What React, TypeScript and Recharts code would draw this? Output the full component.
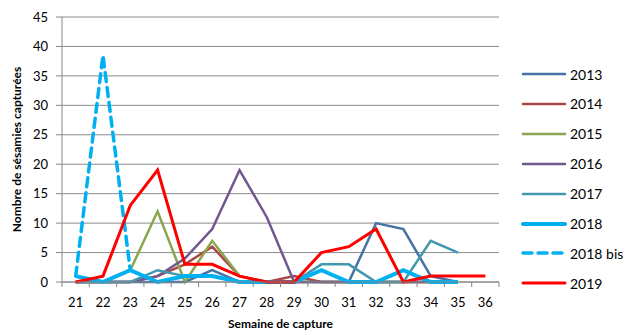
import { LineChart, Line, XAxis, YAxis, CartesianGrid } from "recharts";

// semaines de capture
const weeks = [21, 22, 23, 24, 25, 26, 27, 28, 29, 30, 31, 32, 33, 34, 35, 36];

// captures hebdomadaires par année
const s2013 = [0, 0, 0, 0, 0, 2, 0, 0, 0, 0, 0, 10, 9, 1, 0, null];
const s2014 = [0, 0, 0, 1, 3, 6, 1, 0, 1, 0, 0, 0, 0, 0, 0, null];
const s2015 = [0, 0, 2, 12, 0, 7, 1, 0, 0, 0, 0, 0, 0, 0, 0, null];
const s2016 = [0, 0, 0, 1, 4, 9, 19, 11, 0, 0, 0, 0, 0, 0, 0, null];
const s2017 = [0, 0, 0, 2, 1, 1, 0, 0, 0, 3, 3, 0, 0, 7, 5, null];
const s2018 = [1, 0, 2, 0, 1, 1, 0, 0, 0, 2, 0, 0, 2, 0, 0, null];
const s2018bis = [1, 38.5, 2, null, null, null, null, null, null, null, null, null, null, null, null, null];
const s2019 = [0, 1, 13, 19, 3, 3, 1, 0, 0, 5, 6, 9, 0, 1, 1, 1];

const yTicks = [0, 5, 10, 15, 20, 25, 30, 35, 40, 45];

const series = [
  { key: "y2013", name: "2013", values: s2013, color: "#4572A7", width: 2.5, dash: undefined },
  { key: "y2014", name: "2014", values: s2014, color: "#AA4643", width: 2.5, dash: undefined },
  { key: "y2015", name: "2015", values: s2015, color: "#89A54E", width: 2.5, dash: undefined },
  { key: "y2016", name: "2016", values: s2016, color: "#71588F", width: 2.5, dash: undefined },
  { key: "y2017", name: "2017", values: s2017, color: "#4198AF", width: 2.5, dash: undefined },
  { key: "y2018", name: "2018", values: s2018, color: "#00B0F0", width: 4, dash: undefined },
  { key: "y2018bis", name: "2018 bis", values: s2018bis, color: "#00B0F0", width: 3.5, dash: "9 6" },
  { key: "y2019", name: "2019", values: s2019, color: "#FF0000", width: 3, dash: undefined },
];

const rows = weeks.map((week, i) => {
  const row: Record<string, number | null> = { week };
  series.forEach((s) => {
    row[s.key] = s.values[i];
  });
  return row;
});

// ticks at each week for labels, and at half weeks for the tick marks between them
const xTicks = [weeks[0] - 0.5, ...weeks.flatMap((w) => [w, w + 0.5])];

const W = 625;
const H = 335;
const FONT = "Lato, 'Open Sans', sans-serif";
const AXIS = "#868686";
const TICK_SIZE = 5;
const TICK_MARGIN = 11;

function WeekTick(props: any) {
  const { x, y, payload } = props;
  const v = payload.value;
  if (Number.isInteger(v)) {
    return (
      <text x={x} y={y} dy="0.71em" textAnchor="middle" fontSize={13} fill="#000" fontFamily={FONT}>
        {v}
      </text>
    );
  }
  const top = y - TICK_SIZE - TICK_MARGIN;
  return <line x1={x} x2={x} y1={top} y2={top + TICK_SIZE} stroke={AXIS} strokeWidth={1} />;
}

function LegendBox() {
  return (
    <div style={{ position: "absolute", left: 521, top: 74, fontFamily: FONT, fontSize: 14 }}>
      {series.map((s, i) => (
        <div
          key={s.key}
          style={{
            position: "absolute",
            top: i * 29.9 - 9,
            left: 0,
            height: 18,
            display: "flex",
            alignItems: "center",
            whiteSpace: "nowrap",
          }}
        >
          <svg width={46} height={10} style={{ marginRight: 3 }}>
            <line
              x1={2}
              x2={44}
              y1={5}
              y2={5}
              stroke={s.color}
              strokeWidth={s.width}
              strokeDasharray={s.dash}
              strokeLinecap="round"
            />
          </svg>
          <span>{s.name}</span>
        </div>
      ))}
    </div>
  );
}

export default function App() {
  return (
    <div style={{ position: "absolute", left: 0, top: 0, width: W, height: H, background: "#fff" }}>
      <LineChart width={W} height={H} data={rows} margin={{ top: 17, right: 126, bottom: 3, left: 0 }}>
        <CartesianGrid horizontal vertical={false} stroke="#8c8c8c" strokeWidth={1} />
        <XAxis
          dataKey="week"
          type="number"
          domain={[weeks[0] - 0.5, weeks[weeks.length - 1] + 0.5]}
          ticks={xTicks}
          interval={0}
          height={50}
          tickLine={false}
          tickSize={TICK_SIZE}
          tickMargin={TICK_MARGIN}
          axisLine={{ stroke: AXIS }}
          tick={<WeekTick />}
          label={{
            value: "Semaine de capture",
            position: "insideBottom",
            offset: 4,
            style: { fontFamily: FONT, fontSize: 12, fontWeight: 700, fill: "#000" },
          }}
        />
        <YAxis
          width={62}
          domain={[0, 45]}
          ticks={yTicks}
          interval={0}
          tickSize={6}
          tickMargin={8}
          axisLine={{ stroke: AXIS }}
          tickLine={{ stroke: AXIS }}
          tick={{ fontFamily: FONT, fontSize: 13, fill: "#000" }}
          label={{
            value: "Nombre de sésamies capturées",
            angle: -90,
            position: "center",
            dx: -14,
            style: { fontFamily: FONT, fontSize: 12, fontWeight: 700, fill: "#000", textAnchor: "middle" },
          }}
        />
        {series.map((s) => (
          <Line
            key={s.key}
            dataKey={s.key}
            name={s.name}
            type="linear"
            stroke={s.color}
            strokeWidth={s.width}
            strokeDasharray={s.dash}
            strokeLinecap={s.dash ? "round" : "butt"}
            strokeLinejoin="miter"
            dot={false}
            activeDot={false}
            connectNulls={false}
            isAnimationActive={false}
          />
        ))}
      </LineChart>
      <LegendBox />
    </div>
  );
}
